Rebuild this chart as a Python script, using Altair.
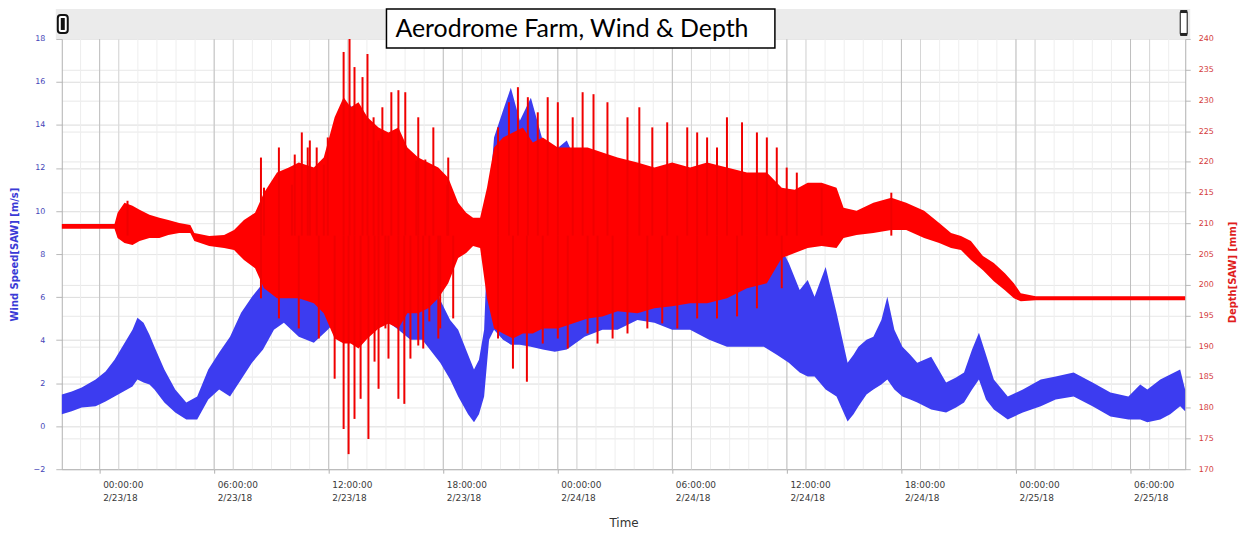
import altair as alt
import pandas as pd

START = pd.Timestamp("2018-02-23 00:00:00")

# ---- Wind speed [m/s] (left axis): envelope of the noisy trace, hours after 2/23/18 00:00
wind_hours = [-1.98, -1.46, -0.94, -0.21, 0.31, 0.78, 1.25, 1.72, 1.98, 2.30,
              2.61, 2.87, 3.39, 3.96, 4.54, 5.11, 5.69, 6.26, 6.83, 7.41,
              7.98, 8.56, 9.13, 9.65, 10.43, 11.22, 11.95, 12.42, 12.73, 13.15,
              13.46, 13.88, 14.24, 14.97, 15.65, 16.28, 16.90, 17.84, 18.36, 18.78,
              19.30, 19.61, 19.87, 20.14, 20.40, 20.66, 21.13, 21.54, 22.01, 22.59,
              23.21, 23.84, 24.47, 25.40, 26.34, 27.13, 28.17, 29.06, 29.99, 30.93,
              31.93, 32.86, 33.91, 34.79, 35.47, 36.10, 36.67, 37.09, 37.45, 38.03,
              38.60, 39.18, 39.49, 39.75, 40.17, 40.53, 40.95, 41.26, 41.63, 42.05,
              42.46, 42.83, 43.56, 44.34, 44.86, 45.28, 45.70, 46.06, 46.43, 46.84,
              47.57, 48.36, 49.30, 50.08, 51.02, 52.01, 52.95, 53.89, 54.51, 54.88,
              55.56, 56.08, 56.60, 56.86]
wind_high = [1.47, 1.61, 1.80, 2.17, 2.54, 3.09, 3.79, 4.48, 5.04, 4.81,
             4.25, 3.69, 2.63, 1.70, 1.10, 1.38, 2.63, 3.42, 4.16, 5.27,
             6.01, 6.66, 7.35, 7.03, 6.33, 6.33, 7.26, 10.50, 14.81, 14.90,
             14.53, 11.43, 12.95, 9.11, 8.65, 8.65, 8.19, 5.87, 4.94, 4.48,
             3.32, 2.63, 3.09, 4.48, 10.50, 13.42, 14.67, 15.73, 14.20, 15.27,
             13.28, 12.81, 13.28, 11.43, 10.64, 10.50, 10.96, 10.50, 10.96, 10.50,
             10.50, 10.04, 10.50, 9.57, 8.65, 7.58, 6.33, 6.80, 6.01, 7.40,
             5.27, 2.95, 3.32, 3.69, 4.02, 4.16, 4.94, 6.01, 4.48, 3.69,
             3.32, 2.95, 3.23, 2.03, 2.26, 2.49, 3.56, 4.34, 3.32, 2.17,
             1.38, 1.70, 2.17, 2.31, 2.49, 2.03, 1.56, 1.38, 1.94, 1.70,
             2.17, 2.40, 2.63, 1.70]
wind_low = [0.55, 0.69, 0.87, 0.92, 1.15, 1.38, 1.61, 1.84, 2.17, 2.03,
            1.94, 1.70, 1.10, 0.64, 0.31, 0.31, 1.24, 1.70, 1.38, 2.17,
            2.95, 3.56, 4.48, 4.81, 4.16, 3.88, 4.48, 4.94, 5.87, 6.33,
            5.87, 5.87, 5.41, 4.94, 4.48, 4.02, 4.02, 2.95, 2.17, 1.38,
            0.55, 0.18, 0.55, 1.38, 4.02, 4.48, 4.02, 3.79, 3.79, 3.69,
            3.56, 3.46, 3.56, 4.16, 4.48, 4.48, 4.94, 4.81, 4.48, 4.48,
            4.02, 3.69, 3.69, 3.69, 3.32, 2.95, 2.49, 2.31, 2.31, 1.70,
            1.38, 0.22, 0.55, 0.92, 1.47, 1.70, 1.94, 2.17, 1.70, 1.38,
            1.24, 1.10, 0.78, 0.64, 0.87, 1.10, 1.70, 2.17, 1.24, 0.78,
            0.31, 0.64, 0.92, 1.24, 1.38, 0.92, 0.45, 0.31, 0.31, 0.18,
            0.31, 0.55, 0.92, 0.69]

# ---- Depth [mm] (right axis): dense core envelope
depth_hours = [-1.98, -1.04, 0.00, 0.78, 0.94, 1.30, 1.72, 2.09, 2.61, 3.13,
               3.60, 4.17, 4.75, 4.96, 5.74, 6.52, 7.04, 7.56, 8.14, 8.61,
               9.29, 9.91, 10.43, 11.22, 11.74, 12.31, 12.78, 13.15, 13.56, 14.03,
               14.61, 15.13, 15.65, 16.12, 16.69, 17.21, 17.74, 18.26, 18.78, 19.20,
               19.56, 19.93, 20.29, 20.66, 21.13, 21.65, 22.17, 22.69, 23.21, 24.00,
               24.78, 25.56, 26.34, 27.13, 28.17, 29.06, 29.99, 30.93, 31.82, 32.86,
               33.91, 34.95, 35.73, 36.41, 37.09, 37.82, 38.60, 38.97, 39.65, 40.53,
               41.47, 42.25, 43.19, 43.98, 44.60, 45.12, 45.64, 46.27, 46.84, 47.42,
               47.89, 48.25, 49.03, 50.08, 51.12, 52.16, 53.73, 55.30, 56.86]
depth_high = [209.90, 209.90, 209.90, 209.90, 211.71, 213.34, 212.85, 212.20, 211.38, 210.89,
              210.56, 210.07, 209.74, 208.44, 207.95, 208.11, 208.93, 210.56, 211.71, 214.98,
              218.25, 219.07, 219.89, 219.07, 220.70, 227.25, 230.52, 228.88, 229.70, 227.25,
              225.61, 224.79, 225.61, 222.34, 220.70, 219.89, 219.07, 217.43, 213.34, 211.71,
              210.89, 210.89, 215.80, 222.34, 223.97, 224.79, 225.61, 223.16, 223.97, 222.34,
              222.34, 222.34, 221.52, 220.70, 219.89, 219.07, 219.89, 219.07, 219.89, 219.07,
              218.25, 218.25, 215.80, 215.47, 216.61, 216.61, 215.80, 212.53, 212.03, 213.34,
              214.16, 213.34, 212.03, 210.07, 208.44, 207.95, 207.13, 204.67, 203.53, 201.89,
              200.26, 198.62, 198.13, 198.13, 198.13, 198.13, 198.13, 198.13, 198.13]
depth_low = [209.10, 209.10, 209.10, 209.10, 207.62, 206.80, 206.47, 207.13, 207.62, 207.62,
             208.11, 208.44, 208.44, 207.13, 206.31, 205.98, 205.66, 204.02, 202.71, 199.44,
             197.80, 197.80, 197.80, 196.99, 195.35, 191.26, 190.44, 190.44, 189.63, 191.26,
             192.90, 193.72, 192.90, 195.35, 195.35, 196.17, 197.80, 200.26, 204.35, 205.16,
             206.31, 205.98, 197.80, 192.90, 192.08, 191.26, 192.08, 192.08, 192.90, 192.90,
             193.72, 194.53, 194.86, 195.68, 195.35, 196.17, 196.50, 196.99, 196.99, 197.80,
             199.44, 200.26, 204.35, 205.16, 205.98, 206.31, 205.98, 207.62, 208.11, 208.44,
             208.93, 208.93, 207.62, 206.80, 205.98, 205.66, 204.02, 202.38, 200.59, 199.11,
             197.80, 197.31, 197.48, 197.48, 197.48, 197.48, 197.48, 197.48, 197.48]

# ---- Depth spikes beyond the core (tip value, joined to the core centre)
spike_hours = [1.46, 8.45, 8.61, 9.39, 10.07, 10.22, 10.59, 10.90, 11.01, 11.37,
               11.74, 11.95, 12.78, 13.09, 13.35, 13.77, 14.03, 14.35, 14.61, 14.81,
               15.28, 15.65, 16.01, 16.59, 16.69, 17.06, 17.48, 18.21, 18.26, 20.87,
               21.44, 21.91, 22.43, 22.95, 23.47, 24.00, 24.78, 25.30, 25.87, 26.60,
               27.65, 28.27, 28.95, 29.73, 30.78, 31.30, 31.82, 32.34, 32.86, 33.65,
               34.43, 34.95, 35.47, 35.99, 36.52, 37.82, 41.47,
               8.45, 9.39, 10.43, 11.48, 12.31, 12.78, 13.04, 13.35, 13.67, 14.08,
               14.40, 14.61, 14.97, 15.13, 15.65, 15.96, 16.28, 16.69, 16.95, 17.27,
               17.74, 17.84, 18.52, 20.87, 21.65, 22.38, 23.21, 24.00, 24.52, 25.56,
               26.08, 26.87, 27.65, 28.69, 29.47, 30.26, 31.30, 32.34, 33.39, 34.43,
               35.73]
spike_tip = [213.67, 220.70, 215.80, 222.34, 216.29, 221.19, 224.79, 222.34, 223.48, 222.34,
             219.56, 223.97, 237.88, 240.33, 235.42, 233.79, 237.55, 227.25, 223.48, 228.88,
             231.33, 231.66, 231.33, 220.21, 227.25, 220.38, 225.61, 216.29, 220.70, 225.61,
             229.70, 232.15, 230.52, 228.06, 230.52, 229.70, 227.25, 231.33, 231.01, 229.70,
             227.25, 228.88, 225.61, 226.43, 225.61, 224.79, 223.97, 222.34, 227.25, 226.43,
             224.79, 223.97, 222.34, 219.07, 218.25, 215.80, 214.98,
             197.80, 194.53, 192.90, 191.26, 184.72, 176.54, 172.45, 178.18, 181.45, 174.91,
             187.50, 183.08, 192.90, 187.99, 181.45, 180.63, 187.99, 190.12, 189.63, 194.04,
             191.26, 192.90, 194.53, 191.26, 186.36, 184.23, 190.44, 191.26, 189.63, 192.08,
             190.44, 191.26, 192.08, 192.90, 193.72, 192.90, 194.53, 194.53, 194.86, 196.17,
             199.44]
spike_base = [208.0] * len(spike_hours)

# ---- axis ticks
tick_hours = [0, 6, 12, 18, 24, 30, 36, 42, 48, 54]
wind_ticks = [-2, 0, 2, 4, 6, 8, 10, 12, 14, 16, 18]
depth_ticks = [170, 175, 180, 185, 190, 195, 200, 205, 210, 215, 220, 225, 230, 235, 240]
grid_hours = list(range(-1, 57))

TITLE = "Aerodrome Farm, Wind & Depth"
BLUE = "#3c3cf0"
RED = "#ff0000"


def to_time(hours):
    return START + pd.to_timedelta(pd.Series(hours, dtype=float), unit="h")


wind_df = pd.DataFrame({"t": to_time(wind_hours), "lo": wind_low, "hi": wind_high})
depth_df = pd.DataFrame({"t": to_time(depth_hours), "lo": depth_low, "hi": depth_high})
spike_df = pd.DataFrame({"t": to_time(spike_hours), "tip": spike_tip, "base": spike_base})
grid_df = pd.DataFrame({"t": to_time(grid_hours)})
major_df = pd.DataFrame({"t": to_time(tick_hours)})
minor_df = pd.DataFrame({"t": to_time([h + 1 for h in tick_hours])})


def dt(ts):
    return alt.DateTime(year=ts.year, month=ts.month, date=ts.day,
                        hours=ts.hour, minutes=ts.minute)


x_domain = [dt(pd.Timestamp("2018-02-22 22:01")), dt(pd.Timestamp("2018-02-25 08:52"))]
x_values = [dt(START + pd.Timedelta(hours=h)) for h in tick_hours]

x_axis = alt.Axis(
    orient="bottom", values=x_values, grid=False,
    labelExpr="[timeFormat(datum.value, '%H:%M:%S'), timeFormat(datum.value, '%-m/%-d/%y')]",
    labelAlign="left", labelBaseline="top", labelOffset=3, labelPadding=7,
    labelFont="DejaVu Sans", labelFontSize=9, labelColor="#3a3a3a", labelLineHeight=13,
    labelOverlap=False, labelFlush=False, labelBound=False,
    tickSize=4, tickColor="#b0b0b0", domainColor="#b0b0b0",
    title="Time", titleFont="DejaVu Sans", titleFontSize=12, titleFontWeight="normal",
    titleColor="#333333", titleX=564, titleY=54, titleBaseline="middle", titleAlign="center",
)
X = alt.X("t:T", scale=alt.Scale(domain=x_domain), axis=x_axis, title="Time")

wind_axis = alt.Axis(
    orient="left", values=wind_ticks, format="d", grid=True, gridColor="#dcdcdc",
    labelFont="DejaVu Sans", labelFontSize=8, labelColor="#4646b8", labelPadding=11,
    tickSize=6, tickColor="#b8b8b8", domainColor="#b0b0b0",
    title="Wind Speed[SAW] [m/s]", titleFont="DejaVu Sans", titleFontSize=10,
    titleFontWeight="bold", titleColor="#3a3ad6",
    titleX=-47, titleY=216, titleAngle=270, titleAlign="center", titleBaseline="middle",
)
depth_axis = alt.Axis(
    orient="right", values=depth_ticks, format="d", grid=True, gridColor="#e8e8e8",
    labelFont="DejaVu Sans", labelFontSize=8, labelColor="#d43c3c", labelPadding=8,
    tickSize=5, tickColor="#b8b8b8", domainColor="#b0b0b0",
    title="Depth[SAW] [mm]", titleFont="DejaVu Sans", titleFontSize=10,
    titleFontWeight="bold", titleColor="#e01e1e",
    titleX=47, titleY=234, titleAngle=270, titleAlign="center", titleBaseline="middle",
)
wind_scale = alt.Scale(domain=[-2, 18], nice=False, zero=False)
depth_scale = alt.Scale(domain=[170, 240], nice=False, zero=False)

grid_minor = alt.Chart(grid_df).mark_rule(color="#eeeeee", strokeWidth=1).encode(x=X)
grid_after = alt.Chart(minor_df).mark_rule(color="#d6d6d6", strokeWidth=1).encode(x=X)
grid_major = alt.Chart(major_df).mark_rule(color="#bdbdbd", strokeWidth=1).encode(x=X)

wind = alt.Chart(wind_df).mark_area(color=BLUE, opacity=1, interpolate="linear").encode(
    x=X,
    y=alt.Y("hi:Q", scale=wind_scale, axis=wind_axis, title="Wind Speed[SAW] [m/s]"),
    y2="lo:Q",
)

depth_core = alt.Chart(depth_df).mark_area(color=RED, opacity=1, interpolate="linear").encode(
    x=X,
    y=alt.Y("hi:Q", scale=depth_scale, axis=depth_axis, title="Depth[SAW] [mm]"),
    y2="lo:Q",
)
depth_spikes = alt.Chart(spike_df).mark_rule(color="#f00000", strokeWidth=2).encode(
    x=X,
    y=alt.Y("tip:Q", scale=depth_scale, axis=depth_axis, title="Depth[SAW] [mm]"),
    y2="base:Q",
)
depth = alt.layer(depth_core, depth_spikes)

one = alt.Data(values=[{"k": 1}])
band = alt.Chart(one).mark_rect(color="#ebebeb").encode(
    x=alt.value(-6), x2=alt.value(1133), y=alt.value(-30), y2=alt.value(0))
icon_l = alt.Chart(one).mark_rect(fill="white", stroke="#111111", strokeWidth=2,
                                  cornerRadius=3).encode(
    x=alt.value(-4), x2=alt.value(6), y=alt.value(-24), y2=alt.value(-6))
icon_l_in = alt.Chart(one).mark_rect(color="#111111").encode(
    x=alt.value(-1), x2=alt.value(3), y=alt.value(-21), y2=alt.value(-9))
icon_r = alt.Chart(one).mark_rect(fill="white", stroke="#333333", strokeWidth=1.2,
                                  cornerRadius=2).encode(
    x=alt.value(1123), x2=alt.value(1130), y=alt.value(-28), y2=alt.value(-4))
icon_r_top = alt.Chart(one).mark_rect(color="#222222").encode(
    x=alt.value(1123), x2=alt.value(1130), y=alt.value(-29), y2=alt.value(-26))
icon_r_bot = alt.Chart(one).mark_rect(color="#222222").encode(
    x=alt.value(1123), x2=alt.value(1130), y=alt.value(-6), y2=alt.value(-3))
title_box = alt.Chart(one).mark_rect(fill="white", stroke="black", strokeWidth=1.5).encode(
    x=alt.value(326), x2=alt.value(716), y=alt.value(-30), y2=alt.value(9))
title_text = alt.Chart(one).mark_text(
    text=TITLE, font="Lato", fontSize=25, color="black", align="left", baseline="middle"
).encode(x=alt.value(335), y=alt.value(-10))

chart = alt.layer(
    grid_minor, grid_after, grid_major, wind, depth,
    band, icon_l, icon_l_in, icon_r, icon_r_top, icon_r_bot, title_box, title_text,
).resolve_scale(y="independent").properties(
    width=1128, height=432,
    padding={"left": 54, "top": 30, "right": 60, "bottom": 60},
    autosize=alt.AutoSizeParams(type="none"),
    background="white",
).configure_view(stroke=None)

chart.save("out.html", embed_options={"renderer": "svg", "actions": False})
